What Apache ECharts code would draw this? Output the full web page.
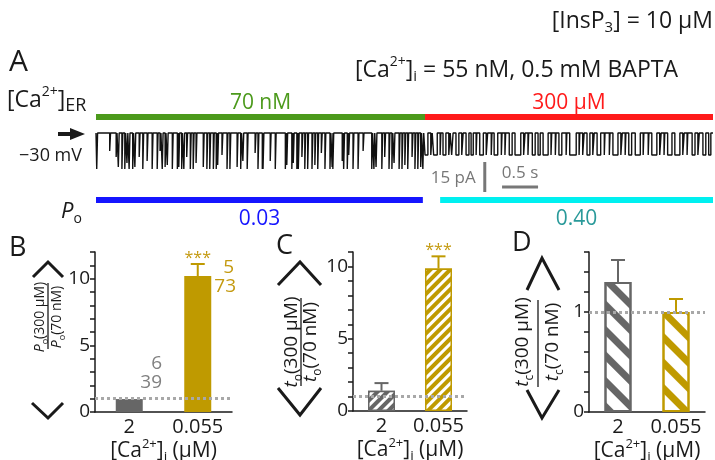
<!DOCTYPE html>
<html><head><meta charset="utf-8">
<script src="https://cdn.jsdelivr.net/npm/echarts@6/dist/echarts.min.js"></script>
<style>html,body{margin:0;padding:0;background:#fff}#c{width:715px;height:460px}</style>
</head><body><div id="c"></div>
<script>
// ---------------- data ----------------
const traceDuration = 8.57; // s
const erSwitchTime = 4.57;  // s, [Ca2+]ER switched 70 nM -> 300 µM
const erConditions = ['70 nM', '300 µM'];
const poValues = ['0.03', '0.40'];
const poSegments = [[0, 4.54], [4.78, 8.57]];
const scaleCurrent = 15; // pA
const scaleTime = 0.5;   // s

// brief openings at 70 nM [Ca2+]ER (time s, amplitude pA)
const spikeTimes70nM = [0.01,0.19,0.28,0.31,0.36,0.40,0.43,0.46,0.51,0.54,
 0.60,0.65,0.71,0.78,0.85,0.89,0.92,0.96,0.99,1.06,
 1.13,1.15,1.19,1.22,1.26,1.31,1.35,1.39,1.49,1.54,
 1.58,1.63,1.67,1.69,1.75,1.82,1.86,1.96,2.01,2.04,
 2.10,2.21,2.25,2.31,2.32,2.42,2.49,2.63,2.65,2.72,
 2.74,2.79,2.81,2.86,2.90,2.94,3.00,3.04,3.08,3.13,
 3.18,3.25,3.28,3.29,3.42,3.44,3.49,3.51,3.57,3.64,
 3.71,3.83,3.86,3.89,3.97,4.01,4.07,4.11,4.14,4.21,
 4.25,4.29,4.33,4.39,4.43,4.47,4.51,4.54];
const spikeAmps70nM = [18,9,12,17,18,18,15,18,18,17,
 12,18,14,18,18,9,18,17,16,18,
 18,17,18,18,12,18,18,15,17,18,
 18,18,18,16,11,18,18,17,18,14,
 18,10,18,18,18,14,18,18,16,18,
 15,18,18,12,18,18,18,16,18,10,
 18,18,17,18,14,18,18,11,18,18,
 9,18,18,17,18,12,18,18,15,18,
 18,16,18,12,18,18,17,18];
// openings at 300 µM [Ca2+]ER ([start, end] s)
const openings300uM = [[4.57,4.61],[4.65,4.67],[4.69,4.74],[4.78,4.79],[4.82,4.86],[4.90,4.92],[4.94,4.96],[5.00,5.04],
 [5.08,5.10],[5.14,5.18],[5.21,5.24],[5.28,5.29],[5.33,5.38],[5.42,5.44],[5.49,5.50],[5.53,5.58],[5.63,5.64],[5.68,5.69],
 [5.74,5.78],[5.82,5.90],[5.94,5.96],[6.00,6.01],[6.06,6.10],[6.14,6.17],[6.21,6.28],[6.32,6.33],[6.38,6.39],[6.43,6.47],
 [6.53,6.54],[6.58,6.67],[6.71,6.72],[6.76,6.78],[6.82,6.86],[6.90,6.92],[6.96,7.01],[7.06,7.07],[7.13,7.14],[7.18,7.25],
 [7.29,7.31],[7.35,7.36],[7.40,7.44],[7.49,7.56],[7.60,7.61],[7.67,7.68],[7.72,7.79],[7.83,7.85],[7.89,7.90],[7.94,8.00],
 [8.04,8.11],[8.15,8.17],[8.21,8.22],[8.28,8.32],[8.36,8.38],[8.43,8.47],[8.51,8.54]];
const openAmp300uM = 11; // pA

const categories = ['2', '0.055'];            // [Ca2+]i (µM)
const poRatioMean = [0.97, 10.2];
const poRatioSem  = [0, 0.9];
const toRatioMean = [1.4, 9.86];
const toRatioSem  = [0.53, 0.84];
const tcRatioMean = [1.30, 1.0];
const tcRatioSem  = [0.22, 0.13];
const significance = ['', '***'];
const nCells  = ['6', '5'];
const nEvents = ['39', '73'];

// ---------------- styles ----------------
const FONT = '"Open Sans", "DejaVu Sans", sans-serif';
const INK = '#1a1a1a';
const GRAY = '#666666';
const GOLD = '#BF9A00';
const GOLDTXT = '#C49A10';
const barColors = [GRAY, GOLD];

// trace polyline built from the event lists
const tracePts = [[0, 0]];
spikeTimes70nM.forEach((t, i) => {
  const w = 0.012, a = -spikeAmps70nM[i];
  tracePts.push([t, 0], [t, a], [t + w, a], [t + w, 0]);
});
openings300uM.forEach(([s, e]) => {
  tracePts.push([s, 0], [s, -openAmp300uM], [e, -openAmp300uM], [e, 0]);
});
tracePts.push([traceDuration, 0]);

const richBase = (size, subScale) => ({
  t: {fontSize: size, fontFamily: FONT, color: INK, lineHeight: size + 6, verticalAlign: 'middle'},
  sup: {fontSize: Math.round(size * 0.6), fontFamily: FONT, color: INK, lineHeight: size + 6, verticalAlign: 'top'},
  sub: {fontSize: Math.round(size * (subScale || 0.65)), fontFamily: FONT, color: INK, lineHeight: size + 6, verticalAlign: 'bottom'},
  i: {fontSize: size, fontFamily: FONT, fontStyle: 'italic', color: INK, lineHeight: size + 6, verticalAlign: 'middle'}
});

function txt(x, y, text, size, opts) {
  opts = opts || {};
  return {type: 'text', x: x, y: y, rotation: opts.rotation || 0, silent: true,
    style: {x: 0, y: 0, text: text, align: opts.align || 'left', verticalAlign: 'middle',
      fontSize: size, fontFamily: FONT, fill: opts.fill || INK,
      fontStyle: opts.italic ? 'italic' : 'normal', rich: opts.rich}};
}
function poly(points, w) {
  return {type: 'polyline', silent: true, shape: {points: points},
    style: {stroke: INK, lineWidth: w || 3, fill: null, lineJoin: 'miter'}};
}
function fractionTitle(o) {
  const rich = richBase(o.size);
  return [
    poly(o.top), poly(o.bottom),
    txt(o.numX, o.cy, o.num, o.size, {align: 'center', rotation: Math.PI / 2, rich: rich}),
    txt(o.denX, o.cy, o.den, o.size, {align: 'center', rotation: Math.PI / 2, rich: rich}),
    {type: 'line', silent: true, shape: {x1: o.lineX, y1: o.lineY1, x2: o.lineX, y2: o.lineY2},
      style: {stroke: INK, lineWidth: 1.3}}
  ];
}

const graphic = [
  txt(713, 21, '{t|[InsP}{sub|3}{t|] = 10 µM}', 23, {align: 'right', rich: richBase(23)}),
  txt(9, 62, 'A', 30),
  txt(355, 70, '{t|[Ca}{sup|2+}{t|]}{sub|i}{t| = 55 nM, 0.5 mM BAPTA}', 23, {rich: richBase(23)}),
  txt(7, 100, '{t|[Ca}{sup|2+}{t|]}{sub|ER}', 23, {rich: richBase(23, 0.8)}),
  {type: 'line', silent: true, shape: {x1: 58, y1: 134, x2: 72, y2: 134}, style: {stroke: INK, lineWidth: 4}},
  {type: 'polygon', silent: true, shape: {points: [[70, 128], [85, 134], [70, 140]]}, style: {fill: INK}},
  txt(82, 156, '−30 mV', 18, {align: 'right'}),
  txt(61, 212, '{i|P}{sub|o}', 22, {rich: richBase(22)}),
  txt(9, 248, 'B', 27),
  txt(276, 246, 'C', 27),
  txt(512, 243, 'D', 27),
  txt(162, 364, nCells[0], 19, {align: 'right', fill: '#808080'}),
  txt(162, 383, nEvents[0], 19, {align: 'right', fill: '#808080'}),
  txt(234, 268, nCells[1], 19, {align: 'right', fill: GOLDTXT}),
  txt(236, 287, nEvents[1], 19, {align: 'right', fill: GOLDTXT})
].concat(
  fractionTitle({top: [[33, 277], [48, 262], [63, 277]], bottom: [[32, 403], [48, 418], [63, 403]],
    numX: 40, denX: 57, cy: 317, lineX: 48, lineY1: 283, lineY2: 349, size: 14,
    num: '{i|P}{sub|o}{t|(300 µM)}', den: '{i|P}{sub|o}{t|(70 nM)}'}),
  fractionTitle({top: [[278, 285], [300, 262], [321, 285]], bottom: [[278, 388], [300, 415], [321, 388]],
    numX: 292, denX: 311, cy: 342, lineX: 301, lineY1: 298, lineY2: 386, size: 19,
    num: '{i|t}{sub|o}{t|(300 µM)}', den: '{i|t}{sub|o}{t|(70 nM)}'}),
  fractionTitle({top: [[527, 290], [542, 258], [559, 290]], bottom: [[527, 390], [542, 418], [559, 390]],
    numX: 523, denX: 553, cy: 342, lineX: 538, lineY1: 300, lineY2: 387, size: 19,
    num: '{i|t}{sub|c}{t|(300 µM)}', den: '{i|t}{sub|c}{t|(70 nM)}'})
);

// ---------------- axes ----------------
const xName = '{t|[Ca}{sup|2+}{t|]}{sub|i}{t| (µM)}';
function catAxis(gi) {
  return {type: 'category', gridIndex: gi, data: categories,
    axisLine: {lineStyle: {color: INK, width: 1.5}},
    axisTick: {length: 5, lineStyle: {color: INK, width: 1.5}},
    axisLabel: {fontSize: 20, fontFamily: FONT, color: INK, margin: 5, interval: 0, hideOverlap: false},
    name: xName, nameLocation: 'middle', nameGap: 24,
    nameTextStyle: {rich: richBase(21)}};
}
function valAxis(gi, max, interval, labelled) {
  return {type: 'value', gridIndex: gi, min: 0, max: max, interval: interval,
    axisLine: {show: true, lineStyle: {color: INK, width: 1.5}},
    axisTick: {show: true, length: 5, lineStyle: {color: INK, width: 1.5}},
    splitLine: {show: false},
    axisLabel: {fontSize: 19, fontFamily: FONT, color: INK, margin: 5, hideOverlap: false,
      formatter: v => labelled.some(l => Math.abs(l - v) < 1e-6) ? String(Math.round(v)) : ''}};
}

function refLine() {
  return {silent: true, symbol: 'none', label: {show: false},
    lineStyle: {color: '#a8a8a8', type: [3, 3], width: 3}, data: [{yAxis: 1}]};
}
function errSeries(gi, mean, sem, showSig) {
  return {type: 'custom', xAxisIndex: gi, yAxisIndex: gi, silent: true, z: 3,
    data: mean.map((m, i) => [i, m, sem[i]]),
    renderItem: (params, api) => {
      const i = api.value(0), m = api.value(1), e = api.value(2);
      const col = barColors[i];
      const b = api.coord([i, m]), t = api.coord([i, m + e]);
      const ch = [];
      if (e > 0) {
        ch.push({type: 'line', shape: {x1: b[0], y1: b[1], x2: t[0], y2: t[1]}, style: {stroke: col, lineWidth: 2}});
        ch.push({type: 'line', shape: {x1: t[0] - 7, y1: t[1], x2: t[0] + 7, y2: t[1]}, style: {stroke: col, lineWidth: 2}});
      }
      if (showSig && significance[i]) {
        ch.push({type: 'text', style: {x: t[0], y: t[1] - 6, text: significance[i], align: 'center',
          verticalAlign: 'middle', fontSize: 16, fontFamily: FONT, fill: GOLDTXT}});
      }
      return {type: 'group', children: ch};
    }};
}

const traceAnnot = {
  type: 'custom', xAxisIndex: 0, yAxisIndex: 0, silent: true, z: 5,
  data: [[0]],
  renderItem: (params, api) => {
    const p = (t, v) => api.coord([t, v]);
    const y0 = p(0, 0)[1];
    const ch = [];
    const erSegs = [[0, erSwitchTime], [erSwitchTime, traceDuration]];
    const erCol = ['#4C9A1C', '#FF1A1A'];
    erSegs.forEach((s, i) => {
      const a = p(s[0], 0)[0], b = p(s[1], 0)[0];
      ch.push({type: 'rect', shape: {x: a, y: y0 - 19, width: b - a, height: 6}, style: {fill: erCol[i]}});
      ch.push({type: 'text', style: {x: (a + b) / 2, y: y0 - 30, text: erConditions[i], align: 'center',
        verticalAlign: 'middle', fontSize: 21, fontFamily: FONT, fill: erCol[i]}});
    });
    const poCol = ['#1515FF', '#00F0F0'], poTxt = ['#1515FF', '#2A9A9A'];
    poSegments.forEach((s, i) => {
      const a = p(s[0], 0)[0], b = p(s[1], 0)[0];
      ch.push({type: 'rect', shape: {x: a, y: y0 + 64, width: b - a, height: 6}, style: {fill: poCol[i]}});
      ch.push({type: 'text', style: {x: (a + b) / 2, y: y0 + 86, text: poValues[i], align: 'center',
        verticalAlign: 'middle', fontSize: 21, fontFamily: FONT, fill: poTxt[i]}});
    });
    // scale bars
    const vT = 5.40, vTop = -14.5;
    const v1 = p(vT, vTop), v2 = p(vT, vTop - scaleCurrent);
    ch.push({type: 'line', shape: {x1: v1[0], y1: v1[1], x2: v2[0], y2: v2[1]}, style: {stroke: '#777', lineWidth: 3}});
    ch.push({type: 'text', style: {x: v1[0] - 9, y: (v1[1] + v2[1]) / 2 + 1, text: scaleCurrent + ' pA', align: 'right',
      verticalAlign: 'middle', fontSize: 17, fontFamily: FONT, fill: '#777'}});
    const hT = 5.64, hLev = -27;
    const h1 = p(hT, hLev), h2 = p(hT + scaleTime, hLev);
    ch.push({type: 'line', shape: {x1: h1[0], y1: h1[1], x2: h2[0], y2: h2[1]}, style: {stroke: '#777', lineWidth: 3}});
    ch.push({type: 'text', style: {x: (h1[0] + h2[0]) / 2, y: h1[1] - 14, text: scaleTime + ' s', align: 'center',
      verticalAlign: 'middle', fontSize: 17, fontFamily: FONT, fill: '#777'}});
    return {type: 'group', children: ch};
  }
};

const G = {containLabel: false, outerBoundsMode: 'none'};
const chart = echarts.init(document.getElementById('c'), null, {renderer: 'canvas'});
chart.setOption({
  animation: false,
  backgroundColor: '#fff',
  textStyle: {fontFamily: FONT},
  grid: [
    Object.assign({left: 96, top: 95, width: 617, height: 135}, G),
    Object.assign({left: 95, top: 252, width: 137, height: 160}, G),
    Object.assign({left: 353, top: 252, width: 114, height: 159}, G),
    Object.assign({left: 589, top: 252, width: 116, height: 160}, G)
  ],
  xAxis: [
    {type: 'value', gridIndex: 0, min: 0, max: traceDuration, show: false},
    catAxis(1), catAxis(2), catAxis(3)
  ],
  yAxis: [
    {type: 'value', gridIndex: 0, min: -48.5, max: 19, show: false},
    valAxis(1, 12, 1, [0, 5, 10]),
    valAxis(2, 11, 1, [0, 5, 10]),
    valAxis(3, 1.6, 0.2, [0, 1])
  ],
  graphic: graphic,
  series: [
    {type: 'line', xAxisIndex: 0, yAxisIndex: 0, data: tracePts, showSymbol: false, silent: true,
      lineStyle: {color: '#111', width: 1.4}, sampling: null},
    traceAnnot,
    {type: 'bar', xAxisIndex: 1, yAxisIndex: 1, barWidth: 27,
      data: poRatioMean.map((v, i) => ({value: v, itemStyle: {color: barColors[i]}})),
      markLine: refLine()},
    errSeries(1, poRatioMean, poRatioSem, true),
    {type: 'bar', xAxisIndex: 2, yAxisIndex: 2, barWidth: 27,
      data: toRatioMean.map((v, i) => ({value: v, itemStyle: {color: barColors[i], borderColor: barColors[i], borderWidth: 1.5,
        decal: {symbol: 'rect', symbolSize: 1, color: '#fff', dashArrayX: [1, 0], dashArrayY: [3, 4], rotation: -Math.PI / 4}}})),
      markLine: refLine()},
    errSeries(2, toRatioMean, toRatioSem, true),
    {type: 'bar', xAxisIndex: 3, yAxisIndex: 3, barWidth: 27,
      data: tcRatioMean.map((v, i) => ({value: v, itemStyle: {color: '#fff', borderColor: barColors[i], borderWidth: 2,
        decal: {symbol: 'rect', symbolSize: 1, color: barColors[i], dashArrayX: [1, 0], dashArrayY: [7, 11], rotation: Math.PI / 4}}})),
      markLine: refLine()},
    errSeries(3, tcRatioMean, tcRatioSem, false)
  ]
});
</script></body></html>
